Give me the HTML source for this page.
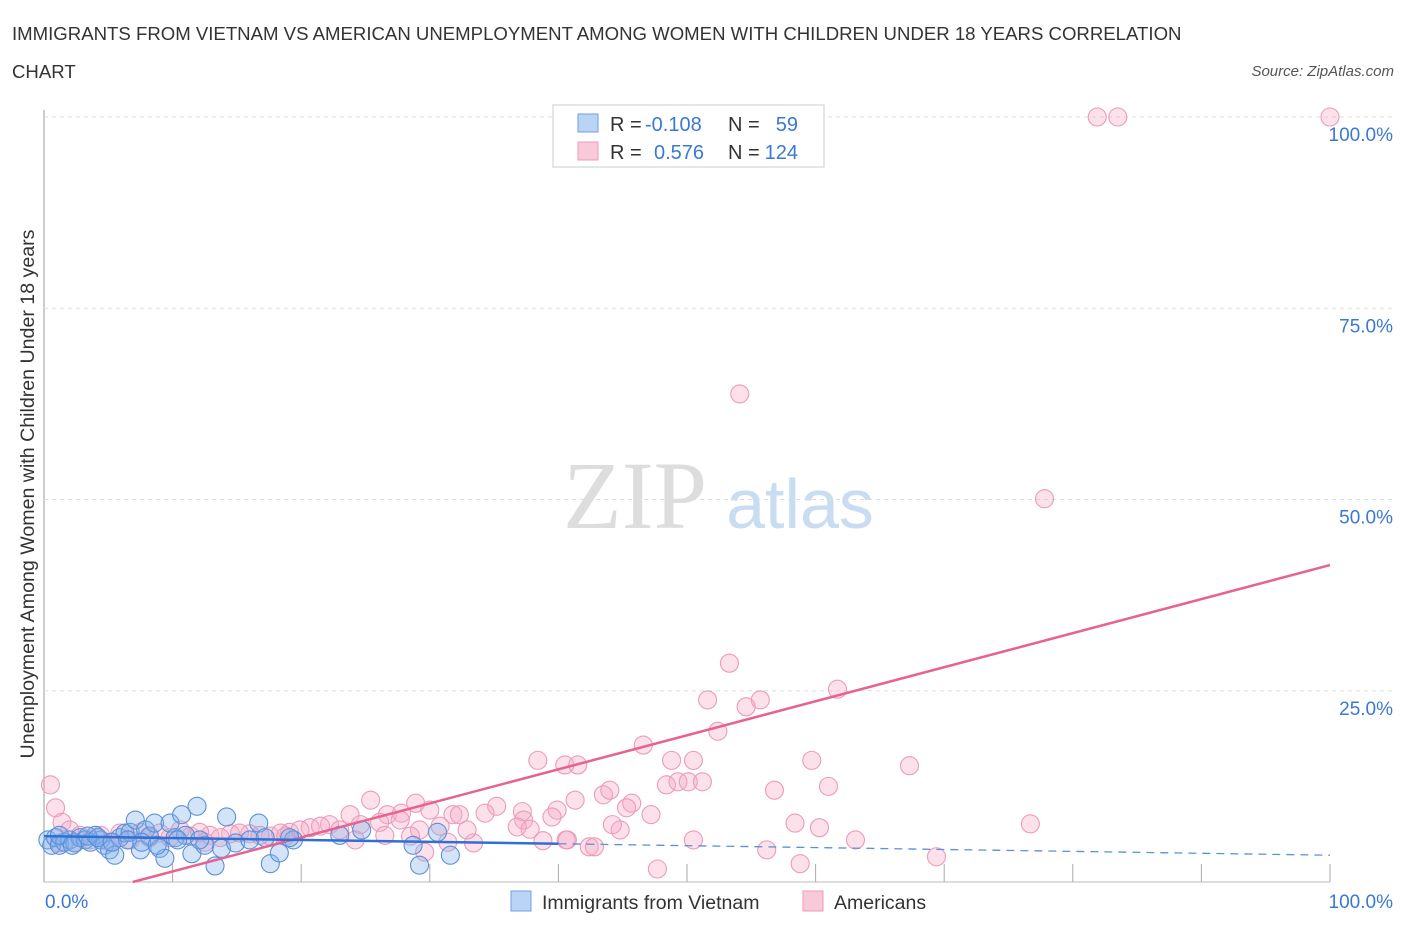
<!DOCTYPE html>
<html><head><meta charset="utf-8"><style>
body{margin:0;background:#fff;font-family:"Liberation Sans",sans-serif}
</style></head><body>
<svg id="c" width="1406" height="930" xmlns="http://www.w3.org/2000/svg">
<text x="12" y="40" font-size="18.6" fill="#333">IMMIGRANTS FROM VIETNAM VS AMERICAN UNEMPLOYMENT AMONG WOMEN WITH CHILDREN UNDER 18 YEARS CORRELATION</text>
<text x="12" y="78" font-size="18.6" fill="#333">CHART</text>
<text x="1394" y="76" font-size="15" fill="#555" font-style="italic" text-anchor="end">Source: ZipAtlas.com</text>
<text x="635" y="528" font-size="96" fill="#ddd" font-family="Liberation Serif,serif" text-anchor="middle">ZIP</text>
<text x="800" y="528" font-size="70" fill="#c8dcf2" text-anchor="middle">atlas</text>
<text transform="translate(34,494) rotate(-90)" font-size="19.6" fill="#333" text-anchor="middle">Unemployment Among Women with Children Under 18 years</text>
<g id="grid"></g><g id="marks"></g>
<g>
<rect x="553" y="105" width="271" height="62" fill="#fff" stroke="#ccc"/>
<rect x="578" y="114" width="20" height="18" fill="#b9d4f5" stroke="#6f9fe0"/>
<rect x="578" y="142" width="20" height="18" fill="#fac9d9" stroke="#ef9ab7"/>
<text x="610" y="131" font-size="20" fill="#333">R =</text>
<text x="645" y="131" font-size="20" fill="#3a78d8">-0.108</text>
<text x="728" y="131" font-size="20" fill="#333">N =</text>
<text x="798" y="131" font-size="20" fill="#3a78d8" text-anchor="end">59</text>
<text x="610" y="159" font-size="20" fill="#333">R =</text>
<text x="654" y="159" font-size="20" fill="#3a78d8">0.576</text>
<text x="728" y="159" font-size="20" fill="#333">N =</text>
<text x="798" y="159" font-size="20" fill="#3a78d8" text-anchor="end">124</text>
</g>
<rect x="511" y="891" width="20" height="20" fill="#b9d4f5" stroke="#6f9fe0"/>
<text x="542" y="909" font-size="19.5" fill="#333">Immigrants from Vietnam</text>
<rect x="803" y="891" width="20" height="20" fill="#fac9d9" stroke="#ef9ab7"/>
<text x="834" y="909" font-size="19.5" fill="#333">Americans</text>
</svg>
<script>
const yTicks=[25,50,75,100];
const blueX=[0.3,0.6,0.9,1.2,1.6,2.0,2.4,2.8,3.2,3.6,4.0,4.4,4.7,5.1,5.5,5.9,6.3,6.7,7.1,7.5,7.9,8.2,8.6,9.0,9.4,9.8,10.2,10.7,11.0,11.5,11.9,12.5,13.3,13.8,14.2,14.9,16.7,17.6,18.3,19.4,19.1,23.0,24.7,28.7,29.2,30.6,31.6,1.2,2.2,3.4,4.2,5.3,6.5,7.6,8.8,10.4,12.1,16.0,17.2];
const blueY=[5.5,4.8,5.8,4.8,5.2,5.5,5.1,5.8,5.5,5.2,6.1,5.5,4.8,4.2,3.5,5.8,6.4,6.5,8.1,4.2,6.8,6.0,7.7,4.4,3.1,7.7,5.8,8.8,6.1,3.7,9.9,4.8,2.1,4.4,8.5,5.1,7.7,2.4,3.8,5.5,5.8,6.1,6.8,4.8,2.2,6.5,3.5,6.1,4.8,6.0,5.8,5.2,5.5,5.2,4.8,5.5,5.5,5.5,5.8];
const pinkX=[0.5,0.9,1.4,2.0,2.8,25.4,26.7,27.8,28.9,35.2,31.8,34.3,37.2,38.4,40.5,41.5,41.3,39.9,43.5,44.0,45.7,46.6,47.2,48.4,49.3,50.1,51.2,50.5,48.8,52.4,53.3,51.6,54.6,55.7,54.1,61.7,77.8,81.9,83.5,100,59.7,56.8,61.0,67.3,76.7,69.4,63.1,58.4,60.3,56.2,58.8,47.7,50.5,40.7,38.8,42.4,42.8,44.8,44.2,45.3,39.5,37.3,36.8,37.8,33.4,32.9,31.4,30.0,29.2,30.8,32.3,23.8,22.2,20.7,19.1,17.6,16.0,14.5,12.9,11.4,9.8,8.2,6.7,5.1,3.6,2.4,1.2,4.4,5.9,7.5,9.0,10.6,12.1,13.7,15.2,16.8,18.4,19.9,21.5,23.0,24.6,26.1,27.7,28.5,29.6,40.6,24.2,26.5,18.8,12.5];
const pinkY=[12.7,9.7,7.8,6.8,6.1,10.7,8.8,9.0,10.3,9.9,8.8,9.0,9.2,15.9,15.3,15.3,10.7,9.4,11.4,12.0,10.3,17.9,8.8,12.7,13.1,13.1,13.1,15.9,15.9,19.7,28.6,23.8,22.9,23.8,63.8,25.2,50.1,100,100,100,15.9,12.0,12.5,15.2,7.6,3.3,5.5,7.7,7.1,4.2,2.4,1.7,5.5,5.5,5.4,4.6,4.6,6.8,7.5,9.7,8.5,8.1,7.2,6.9,5.1,6.8,5.2,9.4,6.8,7.3,8.8,8.8,7.5,7.1,6.5,6.0,6.3,6.3,6.1,6.0,5.8,5.8,5.5,5.2,5.5,5.2,5.1,6.1,6.4,6.5,6.4,6.8,6.5,5.8,6.4,6.1,6.4,6.8,7.3,6.8,7.5,7.8,8.1,6.0,3.9,5.5,5.5,6.1,6.0,5.2];
const pinkTrend=[-3.07,0.445];
const blueTrend=[6.0,-0.025];
const X0=44,X1=1330,Y0=882,Y1=117;
const sx=v=>X0+(X1-X0)*v/100, sy=v=>Y0-(Y0-Y1)*v/100;
const NS='http://www.w3.org/2000/svg';
function mk(t,a,p){const e=document.createElementNS(NS,t);for(const k in a)e.setAttribute(k,a[k]);p.appendChild(e);return e;}
const g=document.getElementById('grid'),m=document.getElementById('marks');
let e=mk('line',{x1:X0,y1:110,x2:X0,y2:Y0,stroke:'#999'},g);


e=mk('line',{x1:X0,y1:Y0,x2:X1,y2:Y0,stroke:'#bbb'},g);


yTicks.forEach(t=>{
 e=mk('line',{x1:X0,y1:sy(t),x2:1395,y2:sy(t),stroke:'#ddd','stroke-dasharray':'4,4'},g);
 
 
 e=mk('text',{x:1393,y:sy(t)+24,'font-size':19,fill:'#3a78d8','text-anchor':'end'},g);e.textContent=t.toFixed(1)+'%';
 
 
});
for(let i=1;i<=10;i++){e=mk('line',{x1:sx(i*10),y1:Y0,x2:sx(i*10),y2:Y0-18,stroke:'#aaa'},g);
 
 }
e=mk('text',{x:45,y:908,'font-size':19,fill:'#3a78d8'},g);e.textContent='0.0%';


e=mk('text',{x:1393,y:908,'font-size':19,fill:'#3a78d8','text-anchor':'end'},g);e.textContent='100.0%';


pinkX.forEach((x,i)=>{e=mk('circle',{cx:sx(x),cy:sy(pinkY[i]),r:9,fill:'rgba(247,170,198,0.35)',stroke:'#ee9ab8','stroke-width':1.1},m);
 
 });
blueX.forEach((x,i)=>{e=mk('circle',{cx:sx(x),cy:sy(blueY[i]),r:9,fill:'rgba(130,178,235,0.35)',stroke:'#5a90dc','stroke-width':1.1},m);
 
 });
const px0=-pinkTrend[0]/pinkTrend[1];
e=mk('line',{x1:sx(px0),y1:sy(0),x2:sx(100),y2:sy(pinkTrend[0]+pinkTrend[1]*100),stroke:'#e8628f','stroke-width':2.5},m);


e=mk('line',{x1:sx(0),y1:sy(blueTrend[0]),x2:sx(40),y2:sy(blueTrend[0]+blueTrend[1]*40),stroke:'#2f6fd6','stroke-width':2.5},m);


e=mk('line',{x1:sx(40),y1:sy(blueTrend[0]+blueTrend[1]*40),x2:sx(100),y2:sy(blueTrend[0]+blueTrend[1]*100),stroke:'#5a90dc','stroke-width':1.3,'stroke-dasharray':'8,6'},m);


</script>
</body></html>
